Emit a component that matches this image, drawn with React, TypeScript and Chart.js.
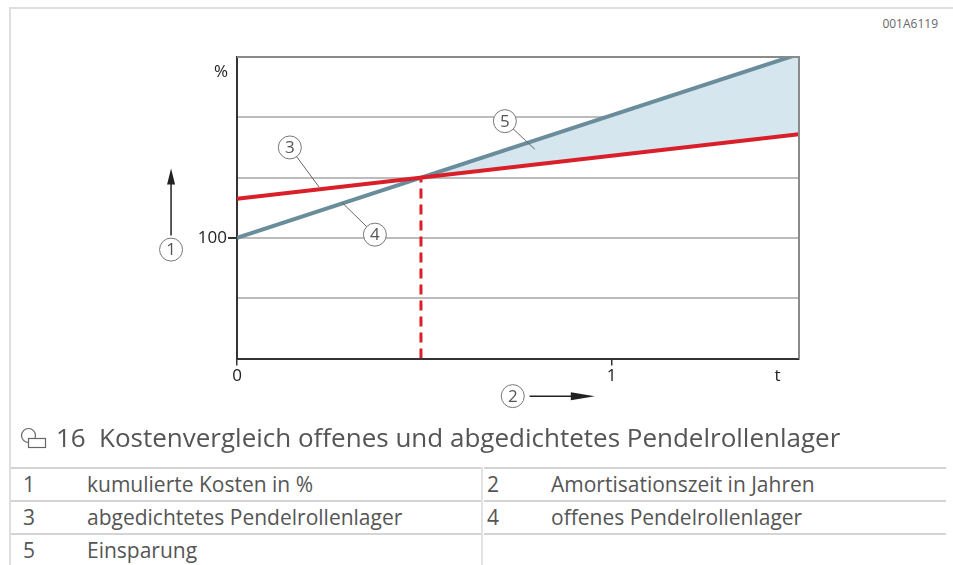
import React, { useEffect, useRef } from "react";
import { Chart, registerables } from "chart.js";

Chart.register(...registerables);

// ---- data ----
const xOpen = [0, 1.5];
const yOpen = [100, 252.5]; // offenes Pendelrollenlager (4)
const xSealed = [0, 1.5];
const ySealed = [132.5, 186]; // abgedichtetes Pendelrollenlager (3)
const breakEvenX = [0.491, 0.491];
const breakEvenY = [0, 150];
const xTickValues = [0, 1, 1.443];
const xTickLabels = ["0", "1", "t"];
const yTickValues = [0, 50, 100, 150, 200, 250];
const yLabelled = [100];

// callouts (data coordinates): circle centre and leader target
const calloutNums = ["3", "4", "5"];
const calloutCx = [0.141, 0.368, 0.715];
const calloutCy = [175, 102.7, 196.8];
const calloutTx = [0.219, 0.28, 0.795];
const calloutTy = [142.2, 129.4, 173.5];

const tableLeft = [
  ["1", "kumulierte Kosten in %"],
  ["3", "abgedichtetes Pendelrollenlager"],
  ["5", "Einsparung"],
];
const tableRight = [
  ["2", "Amortisationszeit in Jahren"],
  ["4", "offenes Pendelrollenlager"],
  ["", ""],
];

const RED = "#d81f2a";
const BLUE = "#6a8d9c";
const FILL = "#d5e6ee";
const FONT = "'Open Sans', 'Noto Sans', sans-serif";

function circleNum(ctx: CanvasRenderingContext2D, x: number, y: number, t: string) {
  ctx.save();
  ctx.beginPath();
  ctx.arc(x, y, 11.5, 0, Math.PI * 2);
  ctx.fillStyle = "#fff";
  ctx.fill();
  ctx.strokeStyle = "#777";
  ctx.lineWidth = 1;
  ctx.stroke();
  ctx.fillStyle = "#555";
  ctx.font = `17px ${FONT}`;
  ctx.textAlign = "center";
  ctx.textBaseline = "middle";
  ctx.fillText(t, x, y + 1);
  ctx.restore();
}

const decorPlugin = {
  id: "decor",
  afterDatasetsDraw(chart: any) {
    const ctx: CanvasRenderingContext2D = chart.ctx;
    const xs = chart.scales.x;
    const ys = chart.scales.y;
    const a = chart.chartArea;
    ctx.save();
    // top / right frame
    ctx.strokeStyle = "#8a8a8a";
    ctx.lineWidth = 2;
    ctx.beginPath();
    ctx.moveTo(a.left, a.top);
    ctx.lineTo(a.right, a.top);
    ctx.lineTo(a.right, a.bottom);
    ctx.stroke();
    // % label
    ctx.fillStyle = "#222";
    ctx.font = `17px ${FONT}`;
    ctx.textAlign = "right";
    ctx.textBaseline = "middle";
    ctx.fillText("%", a.left - 9, a.top + 15);
    // leader callouts
    for (let i = 0; i < calloutNums.length; i++) {
      const cx = xs.getPixelForValue(calloutCx[i]);
      const cy = ys.getPixelForValue(calloutCy[i]);
      const tx = xs.getPixelForValue(calloutTx[i]);
      const ty = ys.getPixelForValue(calloutTy[i]);
      const d = Math.hypot(tx - cx, ty - cy);
      ctx.strokeStyle = "#666";
      ctx.lineWidth = 1;
      ctx.beginPath();
      ctx.moveTo(cx + ((tx - cx) / d) * 11, cy + ((ty - cy) / d) * 11);
      ctx.lineTo(tx, ty);
      ctx.stroke();
      circleNum(ctx, cx, cy, calloutNums[i]);
    }
    // axis 1 arrow (vertical)
    const ax = xs.getPixelForValue(-0.176);
    const y0 = ys.getPixelForValue(90.3);
    circleNum(ctx, ax, y0, "1");
    const yA = ys.getPixelForValue(102);
    const yTip = ys.getPixelForValue(157.5);
    ctx.strokeStyle = "#222";
    ctx.fillStyle = "#222";
    ctx.lineWidth = 1.5;
    ctx.beginPath();
    ctx.moveTo(ax, yA);
    ctx.lineTo(ax, yTip + 10);
    ctx.stroke();
    ctx.beginPath();
    ctx.moveTo(ax, yTip);
    ctx.lineTo(ax - 4, yTip + 16);
    ctx.lineTo(ax + 4, yTip + 16);
    ctx.closePath();
    ctx.fill();
    // axis 2 arrow (horizontal)
    const x2 = xs.getPixelForValue(0.736);
    const y2 = ys.getPixelForValue(-31.2);
    circleNum(ctx, x2, y2, "2");
    const xA = xs.getPixelForValue(0.781);
    const xTip = xs.getPixelForValue(0.955);
    ctx.beginPath();
    ctx.moveTo(xA, y2);
    ctx.lineTo(xTip - 10, y2);
    ctx.stroke();
    ctx.beginPath();
    ctx.moveTo(xTip, y2);
    ctx.lineTo(xTip - 24, y2 - 4);
    ctx.lineTo(xTip - 24, y2 + 4);
    ctx.closePath();
    ctx.fill();
    ctx.restore();
  },
};

function ChartView() {
  const ref = useRef<HTMLCanvasElement>(null);
  useEffect(() => {
    const canvas = ref.current!;
    const chart = new Chart(canvas, {
      type: "line",
      data: {
        datasets: [
          {
            label: "offenes Pendelrollenlager",
            data: xOpen.map((x, i) => ({ x, y: yOpen[i] })),
            borderColor: BLUE,
            borderWidth: 4,
            pointRadius: 0,
            fill: { target: 1, above: FILL, below: "rgba(0,0,0,0)" },
            order: 2,
          },
          {
            label: "abgedichtetes Pendelrollenlager",
            data: xSealed.map((x, i) => ({ x, y: ySealed[i] })),
            borderColor: RED,
            borderWidth: 4,
            pointRadius: 0,
            fill: false,
            order: 1,
          },
          {
            label: "Amortisation",
            data: breakEvenX.map((x, i) => ({ x, y: breakEvenY[i] })),
            borderColor: RED,
            borderWidth: 3,
            borderDash: [10, 6],
            pointRadius: 0,
            fill: false,
            order: 3,
          },
        ],
      },
      options: {
        animation: false,
        responsive: false,
        events: [],
        layout: { padding: { left: 0, top: 57, right: 154, bottom: 0 } },
        plugins: { legend: { display: false }, tooltip: { enabled: false } },
        scales: {
          x: {
            type: "linear",
            min: 0,
            max: 1.5,
            afterBuildTicks: (s: any) => {
              s.ticks = xTickValues.map((v) => ({ value: v }));
            },
            afterFit: (s: any) => {
              s.height = 420 - 358.5;
            },
            ticks: {
              autoSkip: false,
              maxRotation: 0,
              padding: 0,
              color: "#222",
              font: { family: FONT, size: 17 },
              callback: (_v: any, i: number) => xTickLabels[i],
            },
            grid: {
              drawOnChartArea: false,
              tickLength: 7,
              lineWidth: 1.5,
              tickColor: (c: any) => (c.index === 2 ? "rgba(0,0,0,0)" : "#333"),
            },
            border: { display: true, color: "#333", width: 2 },
          },
          y: {
            type: "linear",
            min: 0,
            max: 250,
            afterBuildTicks: (s: any) => {
              s.ticks = yTickValues.map((v) => ({ value: v }));
            },
            afterFit: (s: any) => {
              s.width = 237;
            },
            ticks: {
              autoSkip: false,
              padding: 1,
              color: "#222",
              font: { family: FONT, size: 17 },
              callback: (v: any) => (yLabelled.includes(v) ? String(v) : ""),
            },
            grid: {
              lineWidth: 2,
              tickLength: 9,
              color: (c: any) =>
                c.tick && (c.tick.value === 0 || c.tick.value === 250) ? "rgba(0,0,0,0)" : "#bcbcbc",
              tickColor: (c: any) => (c.tick && yLabelled.includes(c.tick.value) ? "#333" : "rgba(0,0,0,0)"),
            },
            border: { display: true, color: "#333", width: 2 },
          },
        },
      },
      plugins: [decorPlugin],
    });
    return () => chart.destroy();
  }, []);
  return (
    <canvas
      ref={ref}
      width={953}
      height={420}
      style={{ position: "absolute", left: 0, top: 0, width: 953, height: 420 }}
    />
  );
}

export default function App() {
  const cellText: React.CSSProperties = {
    position: "absolute",
    top: 0,
    lineHeight: "31px",
    fontSize: 21,
    color: "#555",
    whiteSpace: "nowrap",
  };
  const rowTops = [467, 500, 533];
  return (
    <div
      style={{
        position: "absolute",
        left: 0,
        top: 0,
        width: 953,
        height: 565,
        overflow: "hidden",
        background: "#fff",
        fontFamily: FONT,
      }}
    >
      <div style={{ position: "absolute", left: 9, top: 7, width: 944, height: 2, background: "#dedede" }} />
      <div style={{ position: "absolute", left: 9, top: 7, width: 2, height: 558, background: "#dedede" }} />
      <div style={{ position: "absolute", right: 15, top: 15, fontSize: 12, color: "#666", lineHeight: "18px" }}>
        001A6119
      </div>
      <ChartView />
      <svg style={{ position: "absolute", left: 19, top: 427 }} width={30} height={22}>
        <circle cx={9.5} cy={8.5} r={7} fill="none" stroke="#666" strokeWidth={1.2} />
        <rect x={9.5} y={11.5} width={17} height={9} fill="#fff" stroke="#666" strokeWidth={1.2} />
      </svg>
      <div style={{ position: "absolute", left: 56, top: 420, fontSize: 26, color: "#555", lineHeight: "34px", whiteSpace: "nowrap" }}>
        16
      </div>
      <div style={{ position: "absolute", left: 99, top: 420, fontSize: 26, color: "#555", lineHeight: "34px", whiteSpace: "nowrap" }}>
        Kostenvergleich offenes und abgedichtetes Pendelrollenlager
      </div>
      {rowTops.map((t, i) => (
        <React.Fragment key={i}>
          <div style={{ position: "absolute", left: 11, top: t, width: 470, height: 33, borderTop: "2px solid #d4d4d4", boxSizing: "border-box" }}>
            <span style={{ ...cellText, left: 12 }}>{tableLeft[i][0]}</span>
            <span style={{ ...cellText, left: 76 }}>{tableLeft[i][1]}</span>
          </div>
          <div style={{ position: "absolute", left: 484, top: t, width: 462, height: 33, borderTop: "2px solid #d4d4d4", boxSizing: "border-box" }}>
            <span style={{ ...cellText, left: 3 }}>{tableRight[i][0]}</span>
            <span style={{ ...cellText, left: 67 }}>{tableRight[i][1]}</span>
          </div>
        </React.Fragment>
      ))}
      <div style={{ position: "absolute", left: 481, top: 467, width: 2, height: 98, background: "#e2e2e2" }} />
    </div>
  );
}
